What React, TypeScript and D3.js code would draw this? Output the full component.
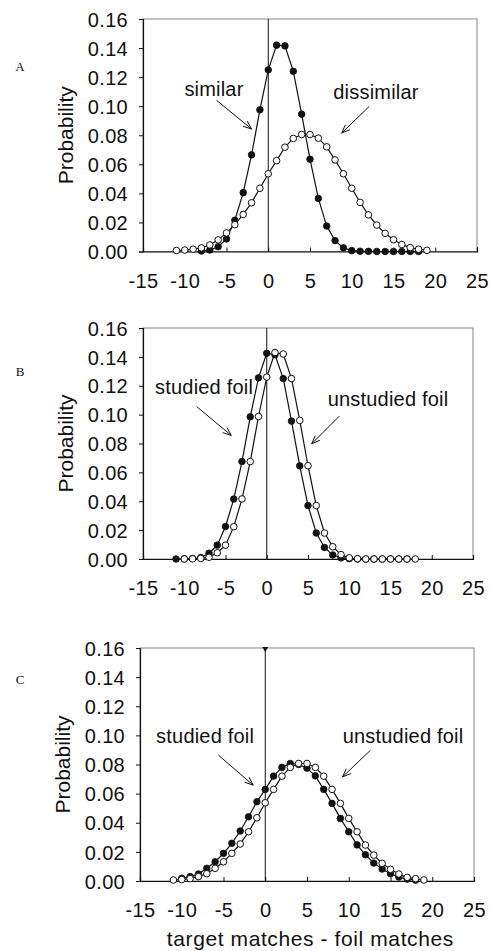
import { useEffect, useRef } from "react";
import * as d3 from "d3";

const X_TICKS = [-15, -10, -5, 0, 5, 10, 15, 20, 25];
const Y_TICKS = [0, 0.02, 0.04, 0.06, 0.08, 0.1, 0.12, 0.14, 0.16];

// Panel A
const SIMILAR_START = -8;
const SIMILAR = [0.0003, 0.001, 0.0033, 0.0086, 0.0215, 0.0405, 0.0665, 0.0975, 0.125, 0.142, 0.1415, 0.124, 0.0945, 0.0635, 0.0365, 0.0175, 0.0075, 0.0025, 0.0006, 0.0002, 0.0001, 0, 0, 0, 0, 0, 0];
const DISSIMILAR_START = -11;
const DISSIMILAR = [0.0007, 0.001, 0.0016, 0.0025, 0.0045, 0.008, 0.0128, 0.0185, 0.0255, 0.0335, 0.0435, 0.0535, 0.0625, 0.0718, 0.0778, 0.0805, 0.0805, 0.078, 0.072, 0.063, 0.0535, 0.0435, 0.0338, 0.0252, 0.0182, 0.0125, 0.0081, 0.0048, 0.0027, 0.0016, 0.0008];

// Panel B
const B_STUDIED_START = -11;
const B_STUDIED = [0, 0.0001, 0.0003, 0.001, 0.004, 0.0096, 0.0225, 0.0415, 0.0675, 0.0985, 0.1255, 0.1425, 0.1415, 0.125, 0.0955, 0.0645, 0.037, 0.018, 0.008, 0.0028, 0.0008, 0.0002, 0, 0, 0, 0, 0, 0, 0];
const B_UNSTUDIED_START = -10;
const B_UNSTUDIED = [0, 0.0001, 0.0004, 0.0012, 0.0043, 0.0096, 0.0224, 0.0416, 0.0675, 0.0987, 0.126, 0.143, 0.142, 0.125, 0.096, 0.0646, 0.037, 0.018, 0.0085, 0.003, 0.0008, 0.0002, 0, 0, 0, 0, 0, 0, 0];

// Panel C
const C_STUDIED_START = -10;
const C_STUDIED = [0.0019, 0.003, 0.0048, 0.0087, 0.0132, 0.019, 0.0259, 0.0343, 0.0441, 0.0544, 0.0629, 0.072, 0.078, 0.0807, 0.08, 0.0775, 0.0722, 0.0629, 0.0533, 0.043, 0.0338, 0.0248, 0.018, 0.0123, 0.0082, 0.005, 0.0027, 0.0013, 0.0006];
const C_UNSTUDIED_START = -11;
const C_UNSTUDIED = [0.0007, 0.001, 0.0016, 0.003, 0.005, 0.0087, 0.0132, 0.019, 0.0254, 0.0338, 0.0434, 0.0537, 0.0629, 0.072, 0.078, 0.0807, 0.0807, 0.078, 0.072, 0.0629, 0.0533, 0.043, 0.0338, 0.0247, 0.0178, 0.0121, 0.008, 0.0048, 0.0025, 0.0016, 0.0007];

const FONT = "'Liberation Sans', Arial, Helvetica, sans-serif";

const PANELS = [
  {
    letter: "A", letterY: 0.124,
    box: { left: 143, right: 477, top: 19, bottom: 251.5 },
    filled: { start: SIMILAR_START, values: SIMILAR },
    open: { start: DISSIMILAR_START, values: DISSIMILAR },
    notes: [
      { text: "similar", tx: -6.5, ty: 0.107, from: [-6.2, 0.1041], to: [-2.0, 0.0843] },
      { text: "dissimilar", tx: 12.9, ty: 0.105, from: [12.1, 0.0999], to: [8.8, 0.0815] },
    ],
    topMark: false,
  },
  {
    letter: "B", letterY: 0.127,
    box: { left: 143, right: 473, top: 328, bottom: 559 },
    filled: { start: B_STUDIED_START, values: B_STUDIED },
    open: { start: B_UNSTUDIED_START, values: B_UNSTUDIED },
    notes: [
      { text: "studied foil", tx: -7.6, ty: 0.114, from: [-8.5, 0.1056], to: [-4.3, 0.0856] },
      { text: "unstudied foil", tx: 14.7, ty: 0.106, from: [8.8, 0.099], to: [5.45, 0.0798] },
    ],
    topMark: false,
  },
  {
    letter: "C", letterY: 0.135,
    box: { left: 140, right: 474, top: 648, bottom: 881 },
    filled: { start: C_STUDIED_START, values: C_STUDIED },
    open: { start: C_UNSTUDIED_START, values: C_UNSTUDIED },
    notes: [
      { text: "studied foil", tx: -7.2, ty: 0.0949, from: [-5.6, 0.0864], to: [-1.44, 0.0658] },
      { text: "unstudied foil", tx: 16.5, ty: 0.0949, from: [12.6, 0.0898], to: [9.26, 0.0715] },
    ],
    topMark: true,
  },
];

export default function App() {
  const svgRef = useRef<SVGSVGElement>(null);

  useEffect(() => {
    if (!svgRef.current) return;
    const svg = d3.select(svgRef.current);
    svg.selectAll("*").remove();

    PANELS.forEach((p, pi) => {
      const { left, right, top, bottom } = p.box;
      const x = d3.scaleLinear().domain([-15, 25]).range([left, right]);
      const y = d3.scaleLinear().domain([0, 0.16]).range([bottom, top]);
      const g = svg.append("g");

      // frame (top/right lighter)
      g.append("rect")
        .attr("x", left).attr("y", top)
        .attr("width", right - left).attr("height", bottom - top)
        .attr("fill", "none").attr("stroke", "#666").attr("stroke-width", 0.8);

      // y axis
      const yAxis = g.append("g")
        .attr("transform", `translate(${left},0)`)
        .call(d3.axisLeft(y).tickValues(Y_TICKS).tickSize(4).tickFormat((d) => d3.format(".2f")(d as number)));
      yAxis.select(".domain").attr("stroke", "#111").attr("stroke-width", 1.2);
      yAxis.selectAll(".tick line").attr("stroke", "#111");
      yAxis.selectAll(".tick text")
        .attr("x", -15).attr("dy", "0.36em")
        .attr("font-family", FONT).attr("font-size", 20).attr("letter-spacing", 0.3).attr("fill", "#111");

      // x axis, ticks pointing inward
      const xAxis = g.append("g")
        .attr("transform", `translate(0,${bottom})`)
        .call(d3.axisBottom(x).tickValues(X_TICKS).tickSize(-4).tickFormat((d) => String(d)));
      xAxis.select(".domain").attr("stroke", "#111").attr("stroke-width", 1.2);
      xAxis.selectAll(".tick line").attr("stroke", "#111");
      xAxis.selectAll(".tick text")
        .attr("y", 36).attr("dy", 0)
        .attr("font-family", FONT).attr("font-size", 20).attr("letter-spacing", 0.3).attr("fill", "#111");

      // zero line
      g.append("line")
        .attr("x1", x(0)).attr("x2", x(0)).attr("y1", top).attr("y2", bottom)
        .attr("stroke", "#111").attr("stroke-width", 1);
      if (p.topMark) {
        g.append("path")
          .attr("d", `M${x(0) - 3},${top - 1}L${x(0) + 3},${top - 1}L${x(0)},${top + 4}Z`)
          .attr("fill", "#111");
      }

      // y label
      g.append("text")
        .attr("transform", `translate(${left - 70},${(top + bottom) / 2}) rotate(-90)`)
        .attr("text-anchor", "middle")
        .attr("font-family", FONT).attr("font-size", 21).attr("fill", "#111")
        .text("Probability");

      // panel letter
      g.append("text")
        .attr("x", 20).attr("y", y(p.letterY))
        .attr("text-anchor", "middle")
        .attr("font-family", "'Liberation Serif', 'Times New Roman', serif")
        .attr("font-size", 13).attr("fill", "#111")
        .text(p.letter);

      const line = d3.line<[number, number]>().x((d) => x(d[0])).y((d) => y(d[1]));
      const toPts = (s: { start: number; values: number[] }) =>
        s.values.map((v, i) => [s.start + i, v] as [number, number]);

      const filledPts = toPts(p.filled);
      const openPts = toPts(p.open);

      [filledPts, openPts].forEach((pts) => {
        g.append("path").attr("d", line(pts)).attr("fill", "none")
          .attr("stroke", "#111").attr("stroke-width", 1.2);
      });

      g.selectAll(null).data(filledPts).enter().append("circle")
        .attr("cx", (d) => x(d[0])).attr("cy", (d) => y(d[1])).attr("r", 3.3)
        .attr("fill", "#111").attr("stroke", "#111").attr("stroke-width", 0.8);
      g.selectAll(null).data(openPts).enter().append("circle")
        .attr("cx", (d) => x(d[0])).attr("cy", (d) => y(d[1])).attr("r", 3.3)
        .attr("fill", "#fff").attr("stroke", "#111").attr("stroke-width", 1);

      // annotations with arrows
      p.notes.forEach((n) => {
        g.append("text")
          .attr("x", x(n.tx)).attr("y", y(n.ty))
          .attr("text-anchor", "middle")
          .attr("font-family", FONT).attr("font-size", 20).attr("letter-spacing", 0.2).attr("fill", "#111")
          .text(n.text);
        const x1 = x(n.from[0]), y1 = y(n.from[1]);
        const x2 = x(n.to[0]), y2 = y(n.to[1]);
        const ang = Math.atan2(y2 - y1, x2 - x1);
        const hl = 9, spread = 0.38;
        const a1 = [x2 - hl * Math.cos(ang - spread), y2 - hl * Math.sin(ang - spread)];
        const a2 = [x2 - hl * Math.cos(ang + spread), y2 - hl * Math.sin(ang + spread)];
        g.append("path")
          .attr("d", `M${x1},${y1}L${x2},${y2}M${a1[0]},${a1[1]}L${x2},${y2}L${a2[0]},${a2[1]}`)
          .attr("fill", "none").attr("stroke", "#111").attr("stroke-width", 1);
      });

      if (pi === PANELS.length - 1) {
        svg.append("text")
          .attr("x", x(5.4)).attr("y", 946)
          .attr("text-anchor", "middle")
          .attr("font-family", FONT).attr("font-size", 21).attr("letter-spacing", 0.6).attr("fill", "#111")
          .text("target matches - foil matches");
      }
    });
  }, []);

  return (
    <svg
      ref={svgRef}
      width={492}
      height={951}
      style={{ position: "absolute", left: 0, top: 0, background: "#fff" }}
    />
  );
}
